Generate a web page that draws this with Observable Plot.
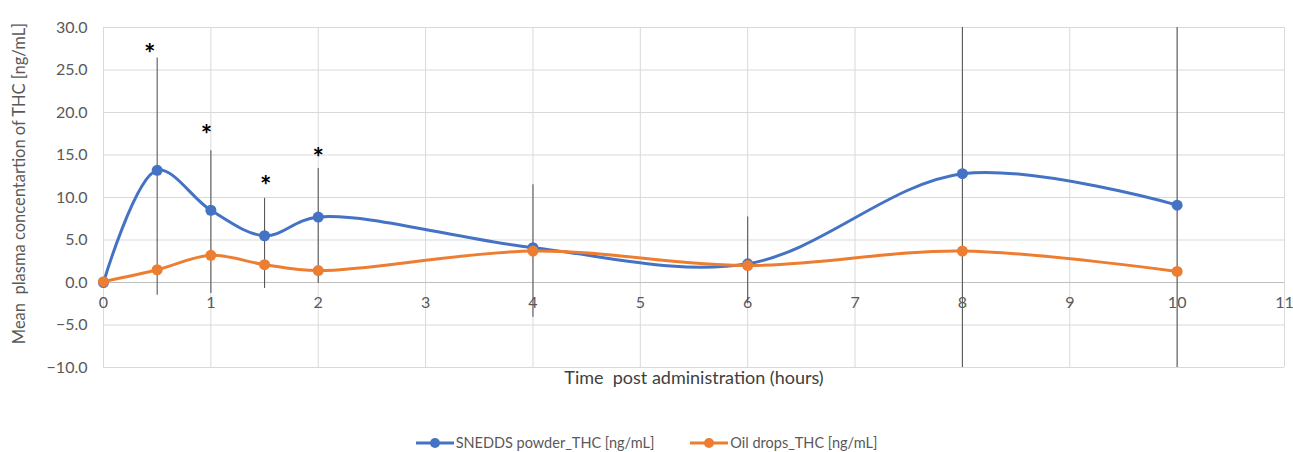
<!DOCTYPE html>
<html>
<head>
<meta charset="utf-8">
<script src="https://cdn.jsdelivr.net/npm/d3@7"></script>
<script src="https://cdn.jsdelivr.net/npm/@observablehq/plot@0.6"></script>
<style>
  body { margin: 0; background: #fff; font-family: Lato, "Open Sans", sans-serif; }
  svg text { white-space: pre; }
  #legend { display: flex; justify-content: center; gap: 36px; margin-top: 34px; font-size: 14.5px; color: #595959; padding-left: 0px; }
  .item { display: flex; align-items: center; gap: 2px; }
</style>
</head>
<body>
<div id="chart"></div>
<div id="legend"></div>
<script>
const times = [0, 0.5, 1, 1.5, 2, 4, 6, 8, 10];
const sneddsTHC = [0, 13.2, 8.5, 5.5, 7.7, 4.1, 2.2, 12.8, 9.1];
const oilTHC = [0.1, 1.5, 3.2, 2.1, 1.4, 3.7, 2.0, 3.7, 1.3];

const errTimes = [0.5, 1, 1.5, 2, 4, 6, 8, 10];
const errLow = [-1.5, -1.3, -0.7, -0.1, -4.1, -2.5, -15, -15];
const errHigh = [26.4, 15.5, 9.9, 13.4, 11.5, 7.7, 40, 40];

const starTimes = [0.43, 0.96, 1.51, 2.0];
const starValues = [27.6, 18.0, 12.0, 15.3];

const xTicks = [0, 1, 2, 3, 4, 5, 6, 7, 8, 9, 10, 11];
const yTicks = [-10, -5, 0, 5, 10, 15, 20, 25, 30];

const seriesNames = ["SNEDDS powder_THC [ng/mL]", "Oil drops_THC [ng/mL]"];
const seriesColors = ["#4472c4", "#ed7d31"];
const yTitle = "Mean  plasma concentartion of THC [ng/mL]";
const xTitle = "Time  post administration (hours)";

const sneddsData = times.map((t, i) => ({t, v: sneddsTHC[i]}));
const oilData = times.map((t, i) => ({t, v: oilTHC[i]}));
const errData = errTimes.map((t, i) => ({t, lo: errLow[i], hi: errHigh[i]}));
const starData = starTimes.map((t, i) => ({t, v: starValues[i]}));
const fmt = d3.format(".1f");

const chart = Plot.plot({
  width: 1293,
  height: 400,
  marginLeft: 103,
  marginRight: 9,
  marginTop: 27,
  marginBottom: 33,
  style: {fontFamily: "Lato, 'Open Sans', sans-serif", fontSize: "15px", color: "#595959", background: "#fff"},
  x: {domain: [0, 11], axis: null},
  y: {domain: [-10, 30], axis: null},
  marks: [
    Plot.gridX(xTicks, {stroke: "#d9d9d9", strokeOpacity: 1}),
    Plot.gridY(yTicks, {stroke: "#d9d9d9", strokeOpacity: 1}),
    Plot.ruleY([0], {stroke: "#bfbfbf", strokeWidth: 1.2}),
    Plot.text(yTicks, {frameAnchor: "left", y: d => d, text: d => fmt(d), dx: -16, textAnchor: "end", fill: "#595959", fontSize: 16}),
    Plot.text([yTitle], {frameAnchor: "left", textAnchor: "middle", rotate: -90, dx: -84, dy: -14, fill: "#595959", fontSize: 16.5}),
    Plot.text(xTicks, {x: d => d, y: 0, dy: 20, text: d => String(d), fill: "#595959", fontSize: 16}),
    Plot.text([xTitle], {frameAnchor: "bottom", dy: 16, fill: "#404040", fontSize: 18}),
    Plot.ruleX(errData, {x: "t", y1: "lo", y2: "hi", stroke: "#595959", strokeWidth: 1.1, clip: true}),
    Plot.line(sneddsData, {x: "t", y: "v", stroke: seriesColors[0], strokeWidth: 3, curve: "catmull-rom"}),
    Plot.line(oilData, {x: "t", y: "v", stroke: seriesColors[1], strokeWidth: 3, curve: "catmull-rom"}),
    Plot.dot(sneddsData, {x: "t", y: "v", r: 5.5, fill: seriesColors[0]}),
    Plot.dot(oilData, {x: "t", y: "v", r: 5.5, fill: seriesColors[1]}),
    Plot.text(starData, {x: "t", y: "v", text: d => "*", fill: "#000", fontSize: 27, fontWeight: "bold", dy: 6})
  ]
});
document.getElementById("chart").appendChild(chart);

const legend = document.getElementById("legend");
seriesNames.forEach((name, i) => {
  const item = document.createElement("div");
  item.className = "item";
  item.innerHTML = `<svg width="38" height="12"><line x1="0" y1="6" x2="38" y2="6" stroke="${seriesColors[i]}" stroke-width="3"/><circle cx="19" cy="6" r="5" fill="${seriesColors[i]}"/></svg><span>${name}</span>`;
  legend.appendChild(item);
});
</script>
</body>
</html>
